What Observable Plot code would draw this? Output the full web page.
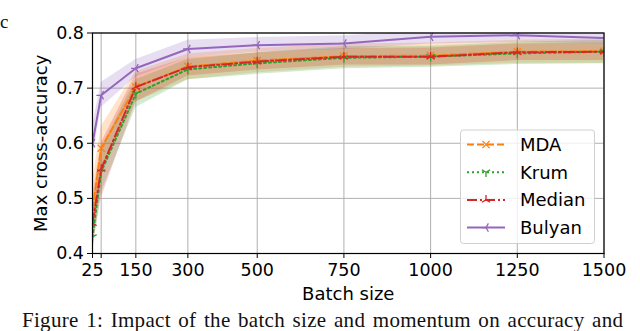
<!DOCTYPE html>
<html><head><meta charset="utf-8">
<script src="https://cdn.jsdelivr.net/npm/d3@7"></script>
<script src="https://cdn.jsdelivr.net/npm/@observablehq/plot@0.6"></script>
<style>
html,body{margin:0;padding:0;background:#fff;}
#wrap{position:relative;width:640px;height:331px;overflow:hidden;background:#fff;}
#wrap svg{position:absolute;left:0;top:0;}
.cap{position:absolute;font-family:"Liberation Serif",serif;color:#111;white-space:nowrap;}
</style></head><body><div id="wrap"></div>
<script>
const batchSizes = [25, 50, 150, 300, 500, 750, 1000, 1250, 1500];
const mda      = [0.480, 0.591, 0.702, 0.739, 0.750, 0.758, 0.759, 0.766, 0.767];
const mdaLo    = [0.440, 0.550, 0.675, 0.715, 0.728, 0.738, 0.740, 0.745, 0.745];
const mdaHi    = [0.530, 0.630, 0.730, 0.762, 0.772, 0.780, 0.782, 0.787, 0.789];
const krum     = [0.430, 0.548, 0.690, 0.734, 0.745, 0.755, 0.757, 0.763, 0.766];
const krumLo   = [0.400, 0.510, 0.665, 0.715, 0.725, 0.735, 0.738, 0.743, 0.744];
const krumHi   = [0.470, 0.590, 0.715, 0.752, 0.764, 0.775, 0.776, 0.783, 0.787];
const median   = [0.455, 0.553, 0.702, 0.738, 0.748, 0.757, 0.757, 0.765, 0.766];
const medianLo = [0.410, 0.500, 0.675, 0.722, 0.733, 0.742, 0.742, 0.750, 0.750];
const medianHi = [0.500, 0.600, 0.725, 0.755, 0.764, 0.772, 0.773, 0.780, 0.782];
const bulyan   = [0.600, 0.687, 0.736, 0.771, 0.778, 0.781, 0.793, 0.796, 0.791];
const bulyanLo = [0.570, 0.665, 0.720, 0.755, 0.765, 0.770, 0.780, 0.783, 0.780];
const bulyanHi = [0.630, 0.710, 0.752, 0.787, 0.792, 0.795, 0.803, 0.806, 0.802];

const seriesNames = ["MDA", "Krum", "Median", "Bulyan"];
const seriesColors = ["#ff7f0e", "#2ca02c", "#d62728", "#9467bd"];
const seriesDashes = ["7,3", "2,3", "10,3,2,3", null];
const xTicks = [25, 50, 150, 300, 500, 750, 1000, 1250, 1500];
const xTickLabels = ["25", "", "150", "300", "500", "750", "1000", "1250", "1500"];
const yTicks = [0.4, 0.5, 0.6, 0.7, 0.8];
const yTickLabels = ["0.4", "0.5", "0.6", "0.7", "0.8"];
const xLabel = "Batch size";
const yLabel = "Max cross-accuracy";
const panelLabel = "c";
const captionText = "Figure 1: Impact of the batch size and momentum on accuracy and";

// marker shapes (matplotlib x, tri_down, tri_up, tri_left)
function armsSymbol(angles) {
  return {draw(ctx, size) {
    const r = Math.sqrt(size / Math.PI);
    for (const a of angles) { ctx.moveTo(0, 0); ctx.lineTo(r * Math.cos(a), r * Math.sin(a)); }
  }};
}
const deg = Math.PI / 180;
const symTimes = {draw(ctx, size) {
  const r = Math.sqrt(size / Math.PI) * 0.75;
  ctx.moveTo(-r, -r); ctx.lineTo(r, r); ctx.moveTo(-r, r); ctx.lineTo(r, -r);
}};
const seriesSymbols = [symTimes, armsSymbol([90*deg, 210*deg, 330*deg]), armsSymbol([-90*deg, 30*deg, 150*deg]), armsSymbol([180*deg, 60*deg, -60*deg])];

const vals = [[mda, mdaLo, mdaHi], [krum, krumLo, krumHi], [median, medianLo, medianHi], [bulyan, bulyanLo, bulyanHi]];
const rowsBySeries = vals.map(([m, lo, hi], k) => batchSizes.map((x, i) => ({name: seriesNames[k], x, y: m[i], lo: lo[i], hi: hi[i]})));

const marks = [
  Plot.gridX(xTicks, {stroke: "#b0b0b0", strokeOpacity: 1, strokeWidth: 1}),
  Plot.gridY(yTicks, {stroke: "#b0b0b0", strokeOpacity: 1, strokeWidth: 1}),
];
rowsBySeries.forEach((rows, k) => {
  marks.push(Plot.areaY(rows, {x: "x", y1: "lo", y2: "hi", fill: seriesColors[k], fillOpacity: 0.22, clip: true}));
});
rowsBySeries.forEach((rows, k) => {
  marks.push(Plot.lineY(rows, {x: "x", y: "y", stroke: seriesColors[k], strokeWidth: 2, strokeDasharray: seriesDashes[k] || undefined, clip: true}));
  marks.push(Plot.dot(rows, {x: "x", y: "y", symbol: seriesSymbols[k], r: 4.8, stroke: seriesColors[k], strokeWidth: 1.3, fill: "none", clip: true}));
});
marks.push(
  Plot.frame({stroke: "black", strokeWidth: 1.2}),
  Plot.axisX(xTicks, {tickSize: 5, tickPadding: 5.2, tickFormat: d => xTickLabels[xTicks.indexOf(d)], label: null, stroke: "black", fill: "black", fontSize: 17.5}),
  Plot.axisY(yTicks, {tickSize: 5, tickPadding: 3.5, tickFormat: d => yTickLabels[yTicks.indexOf(d)], label: null, stroke: "black", fill: "black", fontSize: 17.5}),
  Plot.text([xLabel], {text: d => d, frameAnchor: "bottom", dy: 46, lineAnchor: "bottom", fill: "black", fontSize: 18}),
  Plot.text([yLabel], {text: d => d, frameAnchor: "left", textAnchor: "middle", lineAnchor: "middle", dx: -51, rotate: -90, fill: "black", fontSize: 18})
);

const chart = Plot.plot({
  width: 640, height: 331,
  marginLeft: 92, marginRight: 36.5, marginTop: 32.5, marginBottom: 78,
  x: {type: "linear", domain: [25, 1500]},
  y: {type: "linear", domain: [0.4, 0.8]},
  style: {fontFamily: "'DejaVu Sans', sans-serif", fontSize: "17.5px", color: "black", background: "white", overflow: "visible"},
  marks
});
const wrap = document.getElementById("wrap");
wrap.appendChild(chart);

// legend
const svg = d3.select(chart);
const lg = svg.append("g").attr("text-anchor", "start");
lg.append("rect").attr("x", 460.5).attr("y", 130).attr("width", 134).attr("height", 113.5)
  .attr("rx", 3).attr("fill", "white").attr("fill-opacity", 0.8).attr("stroke", "#d0d0d0").attr("stroke-width", 1);
seriesNames.forEach((name, k) => {
  const yy = 144.5 + k * 27.7;
  lg.append("line").attr("x1", 467).attr("x2", 505).attr("y1", yy).attr("y2", yy)
    .attr("stroke", seriesColors[k]).attr("stroke-width", 2).attr("stroke-dasharray", seriesDashes[k] || null);
  lg.append("path").attr("transform", `translate(486,${yy})`)
    .attr("d", d3.symbol(seriesSymbols[k], 4.8 * 4.8 * Math.PI)())
    .attr("stroke", seriesColors[k]).attr("stroke-width", 1.3).attr("fill", "none");
  lg.append("text").attr("x", 520).attr("y", yy).attr("dy", "0.36em").attr("fill", "black")
    .attr("text-anchor", "start")
    .style("font-family", "'DejaVu Sans', sans-serif").style("font-size", "18px").text(name);
});

const c = document.createElement("div");
c.className = "cap"; c.textContent = panelLabel;
c.style.left = "0px"; c.style.top = "12px"; c.style.fontSize = "19px"; c.style.lineHeight = "19px";
wrap.appendChild(c);
const cap = document.createElement("div");
cap.className = "cap"; cap.textContent = captionText;
cap.style.left = "22px"; cap.style.top = "310px"; cap.style.fontSize = "21px"; cap.style.lineHeight = "21px"; cap.style.letterSpacing = "0.3px"; cap.style.wordSpacing = "2px";
wrap.appendChild(cap);
</script></body></html>
